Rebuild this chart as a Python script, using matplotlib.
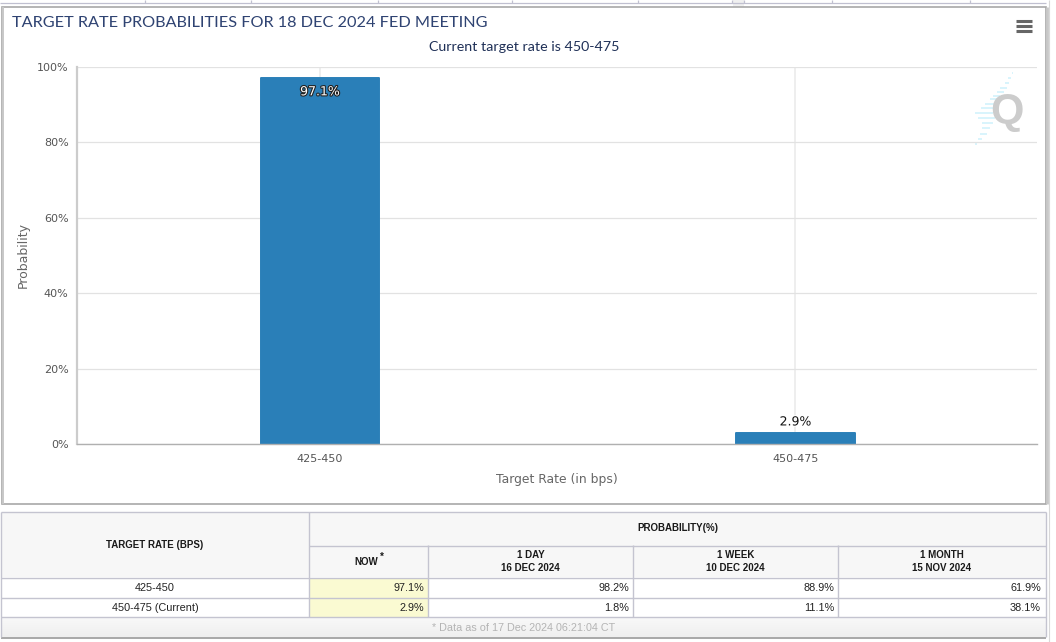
import matplotlib
matplotlib.use("Agg")
import matplotlib.pyplot as plt
import matplotlib.patheffects as pe
from matplotlib.patches import Rectangle
from matplotlib.ticker import FuncFormatter

# chart data
rates = ["425-450", "450-475"]
probabilities = [97.1, 2.9]
y_ticks = [0, 20, 40, 60, 80, 100]

# table data
table_rows = ["425-450", "450-475 (Current)"]
now_vals = ["97.1%", "2.9%"]
day_vals = ["98.2%", "1.8%"]
week_vals = ["88.9%", "11.1%"]
month_vals = ["61.9%", "38.1%"]
col_heads = ["NOW", "1 DAY\n16 DEC 2024", "1 WEEK\n10 DEC 2024", "1 MONTH\n15 NOV 2024"]

W, H = 1056, 642
LINE = "#c4c4d0"

fig = plt.figure(figsize=(W / 100, H / 100), dpi=100, facecolor="white")

# full figure axes in pixel coords, for the panel and table
bg = fig.add_axes([0, 0, 1, 1], zorder=0)
bg.set_xlim(0, W)
bg.set_ylim(H, 0)
bg.axis("off")


def hline(y, x0, x1, color=LINE, lw=1.0):
    bg.plot([x0, x1], [y, y], color=color, lw=lw, solid_capstyle="butt")


def vline(x, y0, y1, color=LINE, lw=1.0):
    bg.plot([x, x], [y0, y1], color=color, lw=lw, solid_capstyle="butt")


# tab strip at the very top
hline(2.5, 0, 1046, color="#c0c0d0", lw=0.9)
for x in [145, 251, 378, 512, 638, 732, 744, 832, 970]:
    vline(x, 0, 2.5, color="#c0c0d0", lw=0.9)
bg.add_patch(Rectangle((733, 0), 11, 7, fc="#f0f0f0", ec="none"))
vline(1049, 0, H, color="#d8d8d8", lw=0.8)

# chart panel
bg.add_patch(Rectangle((2, 7), 1044, 497, fc="white", ec="#a8a8a8", lw=1.2))
vline(1046.5, 7, 504, color="#c8c8c8", lw=2)
vline(2.5, 7, 504, color="#c8c8c8", lw=1.4)

bg.text(12, 23, "TARGET RATE PROBABILITIES FOR 18 DEC 2024 FED MEETING", fontsize=11.7,
        family="Lato", color="#2f4372", va="center", ha="left")
bg.text(524.5, 47, "Current target rate is 450-475", fontsize=10.3, family="Lato",
        color="#1f3057", va="center", ha="center")

# menu icon
for y in [20, 25, 30]:
    hline(y + 0.5, 1016, 1032, color="#666666", lw=2.2)

# watermark
for y, x0, x1 in [(73, 1012, 1013), (78, 1008, 1011), (83, 1005, 1009), (88, 1000, 1007),
                  (92, 997, 1004), (96, 993, 1000), (99, 990, 998), (104, 985, 997),
                  (108, 981, 996), (113, 975, 993), (118, 978, 995), (123, 982, 993),
                  (128, 982, 990), (134, 980, 987), (139, 978, 982), (144, 975, 977)]:
    hline(y, x0, x1, color="#d6f3fc", lw=1.3)

# table
bg.add_patch(Rectangle((1, 512), 1045, 65, fc="#f7f7f7", ec="none"))
bg.add_patch(Rectangle((310, 578), 118, 39, fc="#fafad2", ec="none"))
# footer band fades slightly towards the bottom
for i in range(20):
    shade = 248 - i // 2
    bg.add_patch(Rectangle((1, 617 + i), 1045, 1, fc=(shade / 255,) * 3, ec="none"))
hline(512, 1, 1046)
hline(545.5, 309, 1046)
hline(577.5, 1, 1046)
hline(597.5, 1, 1046)
hline(617, 1, 1046)
hline(637.5, 1, 1046, color="#a8a8a8", lw=1.4)
vline(1, 512, 637)
vline(1046, 512, 637)
vline(309, 512, 617)
col_edges = [309, 428, 633, 838, 1046]
for x in col_edges[1:-1]:
    vline(x, 545, 617)

hfont = dict(family="Liberation Sans", fontsize=7.0, fontweight="bold", color="#1a1a1a",
             va="center", ha="center", linespacing=1.4)
bg.text(155, 545, "TARGET RATE (BPS)", **hfont)
bg.text(678, 528, "PROBABILITY(%)", **hfont)
bg.text(366, 562, col_heads[0], **hfont)
bg.text(381.5, 557, "*", **hfont)
for i in range(1, 4):
    bg.text((col_edges[i] + col_edges[i + 1]) / 2, 561.5, col_heads[i], **hfont)

row_ys = [588, 608]
cfont = dict(family="Liberation Sans", fontsize=7.8, color="#222222", va="center")
for i, y in enumerate(row_ys):
    bg.text(155, y, table_rows[i], ha="center", **cfont)
    bg.text(424, y, now_vals[i], ha="right", **cfont)
    bg.text(629, y, day_vals[i], ha="right", **cfont)
    bg.text(834, y, week_vals[i], ha="right", **cfont)
    bg.text(1041, y, month_vals[i], ha="right", **cfont)
bg.text(524, 628, "* Data as of 17 Dec 2024 06:21:04 CT", family="Liberation Sans", fontsize=7.75,
        color="#b4b4b4", va="center", ha="center")

# bar chart, x range set so the two categories land at 320 and 795
ax = fig.add_axes([77 / W, 1 - 444 / H, 960 / W, 377 / H], zorder=2, facecolor="none")
x = list(range(len(rates)))
ax.set_xlim(-0.511, 1.508)
ax.set_ylim(0, 100)
ax.set_axisbelow(True)
ax.grid(axis="y", color="#e2e2e2", lw=0.9)
ax.grid(axis="x", color="#eeeeee", lw=1.4)
ax.bar(x, probabilities, width=0.249, color="#2a7fb8", edgecolor="#2a7fb8", lw=1.4, joinstyle="round")

ax.set_xticks(x, rates)
ax.set_yticks(y_ticks)
ax.yaxis.set_major_formatter(FuncFormatter(lambda v, _: f"{v:.0f}%"))
ax.tick_params(axis="both", length=0, labelsize=8, labelcolor="#555555", pad=6)
ax.tick_params(axis="x", pad=7.5)
for side in ["top", "right"]:
    ax.spines[side].set_visible(False)
ax.spines["left"].set_color("#cccccc")
ax.spines["left"].set_linewidth(1.6)
ax.spines["bottom"].set_color("#b0b0b0")
ax.spines["bottom"].set_linewidth(1.0)

ax.set_xlabel("Target Rate (in bps)", fontsize=8.9, color="#666666", labelpad=6)
ax.set_ylabel("Probability", fontsize=9.0, color="#666666", labelpad=5)

ax.annotate(f"{probabilities[0]}%", (x[0], probabilities[0]), xytext=(0, -10), textcoords="offset points",
            ha="center", va="center", fontsize=9, color="white",
            path_effects=[pe.withStroke(linewidth=1.6, foreground="#222222")])
ax.annotate(f"{probabilities[1]}%", (x[1], probabilities[1]), xytext=(0, 8), textcoords="offset points",
            ha="center", va="center", fontsize=9, color="#111111",
            path_effects=[pe.withStroke(linewidth=1.6, foreground="white")])

# watermark letter above the plot
bg_top = fig.add_axes([0, 0, 1, 1], zorder=3, facecolor="none")
bg_top.set_xlim(0, W)
bg_top.set_ylim(H, 0)
bg_top.axis("off")
bg_top.text(1007, 112.5, "Q", family="Liberation Sans", fontsize=31, fontweight="bold",
            color="#cccccc", ha="center", va="center")

fig.savefig("out.png", dpi=100)
